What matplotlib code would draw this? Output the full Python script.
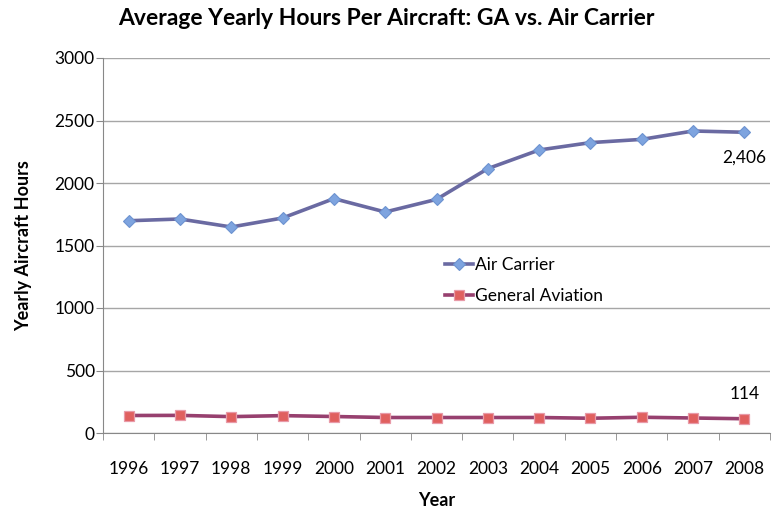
import numpy as np
import matplotlib.pyplot as plt

years = ['1996', '1997', '1998', '1999', '2000', '2001', '2002',
         '2003', '2004', '2005', '2006', '2007', '2008']
air_carrier = [1698, 1712, 1648, 1720, 1875, 1768, 1869,
               2115, 2264, 2323, 2349, 2416, 2406]
general_aviation = [140, 141, 131, 139, 132, 124, 124,
                    124, 124, 118, 126, 120, 114]

plt.rcParams['font.family'] = ['Lato', 'DejaVu Sans']

fig = plt.figure(figsize=(7.73, 5.13), dpi=100)
ax = fig.add_axes([103 / 773, 1 - 433 / 513, 667 / 773, 375 / 513])

x = np.arange(len(years))
ax.plot(x, air_carrier, color='#6a6aa2', lw=2.6, marker='D', ms=6.5,
        mfc='#7ea4df', mec='#6d93d0', mew=0.8, label='Air Carrier', zorder=3)
ax.plot(x, general_aviation, color='#97406f', lw=2.6, marker='s', ms=7.5,
        mfc='#e0605f', mec='#e89aa8', mew=0.9, label='General Aviation', zorder=3)

ax.set_xlim(-0.5, len(years) - 0.5)
ax.set_ylim(0, 3000)
ax.set_yticks(range(0, 3001, 500))
ax.set_xticks(x)
ax.set_xticklabels(years, fontsize=12.5)
ax.set_xticks(np.arange(-0.5, len(years), 1), minor=True)
ax.tick_params(axis='x', which='major', length=0, pad=20)
ax.tick_params(axis='x', which='minor', length=5, color='#888888')
ax.tick_params(axis='y', length=5, color='#888888', labelsize=12.5, pad=1)

ax.grid(axis='y', color='#a6a6a6', lw=1)
ax.set_axisbelow(True)
for s in ['top', 'right']:
    ax.spines[s].set_visible(False)
ax.spines['left'].set_color('#888888')
ax.spines['bottom'].set_color('#888888')

ax.annotate(f'{air_carrier[-1]:,}', (x[-1], air_carrier[-1]), xytext=(0, -18),
            textcoords='offset points', ha='center', va='center', fontsize=12.5)
ax.annotate(f'{general_aviation[-1]:,}', (x[-1], general_aviation[-1]), xytext=(0, 18),
            textcoords='offset points', ha='center', va='center', fontsize=12.5)

ax.set_xlabel('Year', fontsize=13, fontweight='bold', labelpad=11)
ax.set_ylabel('Yearly Aircraft Hours', fontsize=13, fontweight='bold', labelpad=16)
fig.suptitle('Average Yearly Hours Per Aircraft: GA vs. Air Carrier',
             fontsize=16.5, fontweight='bold', x=0.5, y=0.985)

ax.legend(loc='upper left', bbox_to_anchor=(0.49, 0.51), frameon=False,
          fontsize=12.5, handlelength=1.6, handletextpad=0.1, labelspacing=0.85)

fig.savefig('out.png', dpi=100)
